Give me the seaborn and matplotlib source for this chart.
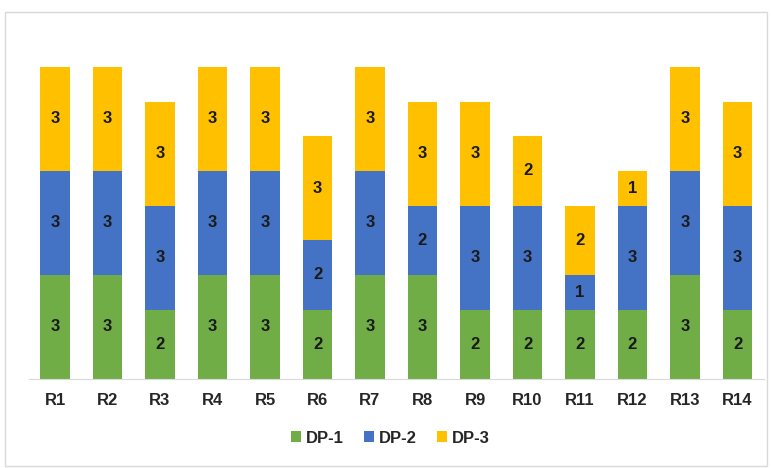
import matplotlib
matplotlib.use("Agg")
import matplotlib.pyplot as plt
import numpy as np
import pandas
import seaborn
from matplotlib.patches import Rectangle

runs = ["R1", "R2", "R3", "R4", "R5", "R6", "R7", "R8", "R9", "R10", "R11", "R12", "R13", "R14"]
dp1 = [3, 3, 2, 3, 3, 2, 3, 3, 2, 2, 2, 2, 3, 2]
dp2 = [3, 3, 3, 3, 3, 2, 3, 2, 3, 3, 1, 3, 3, 3]
dp3 = [3, 3, 3, 3, 3, 3, 3, 3, 3, 2, 2, 1, 3, 3]
series = ["DP-1", "DP-2", "DP-3"]
colors = ["#70AD47", "#4472C4", "#FFC000"]

seaborn.set_style("white")
plt.rcParams["font.family"] = ["Liberation Sans", "DejaVu Sans"]

fig = plt.figure(figsize=(7.71, 4.68), dpi=100)
ax = fig.add_axes([28.75 / 771, 1 - 379 / 468, 735 / 771, 346.7 / 468])

df = pandas.DataFrame({"run": runs, "DP-1": dp1, "DP-2": dp2, "DP-3": dp3})
bottom = np.zeros(len(runs))
for name, color in zip(series, colors):
    seaborn.barplot(data=df, x="run", y=name, bottom=bottom, color=color,
                    width=0.57, label=name, ax=ax, saturation=1, linewidth=0)
    bottom += df[name].values

for container in ax.containers:
    ax.bar_label(container, label_type="center", fontsize=12, fontweight="bold", color="#1a1a1a")

ax.set_xlim(-0.5, len(runs) - 0.5)
ax.set_ylim(0, 10)
ax.set_xlabel("")
ax.set_ylabel("")
ax.set_yticks([])
for side in ["top", "left", "right"]:
    ax.spines[side].set_visible(False)
ax.spines["bottom"].set_color("#d9d9d9")
ax.tick_params(axis="x", length=0, pad=10, labelsize=12, labelcolor="#262626")
for lbl in ax.get_xticklabels():
    lbl.set_fontweight("bold")

handles, labels = ax.get_legend_handles_labels()
if ax.legend_:
    ax.legend_.remove()
fig.legend(handles, labels, loc="center", bbox_to_anchor=(0.506, 0.064), ncol=3,
           frameon=False, handlelength=0.6, handleheight=0.6, handletextpad=0.3,
           columnspacing=1.2, prop={"size": 12, "weight": "bold"},
           labelcolor="#262626")

# light frame around the whole chart
fig.patches.append(Rectangle((5 / 771, 2 / 468), 762 / 771, 454 / 468, transform=fig.transFigure,
                             fill=False, edgecolor="#d9d9d9", linewidth=1))

plt.savefig("out.png", dpi=100)
